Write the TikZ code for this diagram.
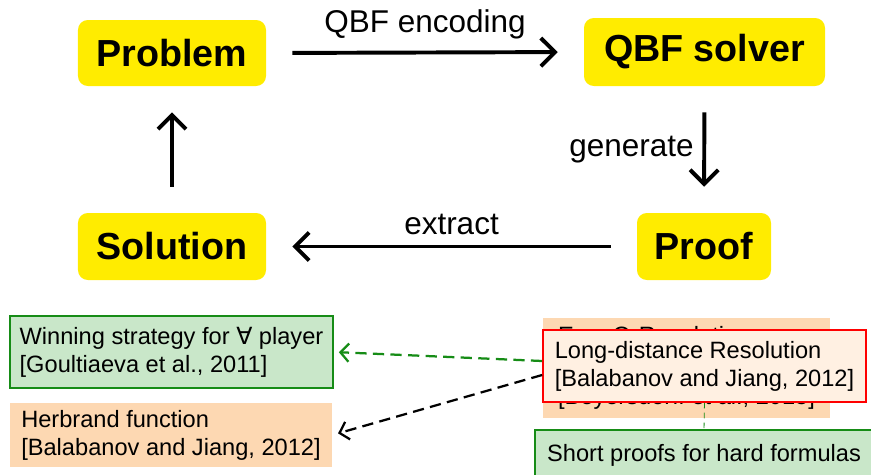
\documentclass[tikz,border=0pt]{standalone}
\usepackage{fontspec}
\setmainfont{Liberation Sans}
\newfontfamily\symfont{DejaVu Sans}
\usetikzlibrary{arrows.meta}

\definecolor{stageyellow}{RGB}{255,236,0}
\definecolor{notegreen}{RGB}{201,231,201}
\definecolor{edgegreen}{RGB}{22,140,22}
\definecolor{noteorange}{RGB}{253,216,178}
\definecolor{notecream}{RGB}{255,240,226}

\tikzset{
  stage/.style={fill=stageyellow, rounded corners=7pt, inner sep=0pt,
    font=\fontsize{26.8}{32}\selectfont\bfseries},
  flow/.style={line width=2.8pt, shorten <=6.5mm, shorten >=6.5mm,
    -{Straight Barb[length=10pt,width=20pt,line width=2.8pt]}},
  flowlabel/.style={font=\fontsize{22.4}{27}\selectfont},
  note/.style={align=left, inner sep=0pt,
    font=\fontsize{16.8}{19.9}\selectfont},
  link/.style={dashed, dash pattern=on 8pt off 4.5pt, line width=1.6pt,
    -{Straight Barb[length=6pt,width=13pt,line width=1.6pt]}}
}

\begin{document}
\begin{tikzpicture}[x=0.25mm, y=-0.25mm]
\clip (0,0) rectangle (871,474);

% cycle
\node[stage, minimum width=47mm, minimum height=16.5mm] (prob) at (172,53) {Problem};
\node[stage, minimum width=60.25mm, minimum height=17mm] (solver) at (704.5,52) {QBF solver};
\node[stage, minimum width=33.5mm, minimum height=16.75mm] (proof) at (704,246.5) {Proof};
\node[stage, minimum width=47mm, minimum height=16.75mm] (sol) at (172,246.5) {Solution};

\draw[flow] (prob.east) -- node[flowlabel, midway, above=1.6mm] {QBF encoding} (solver.west);
\draw[flow] (solver.south) -- node[flowlabel, midway, left=1mm] {generate} (proof.north);
\draw[flow] (proof.west) -- node[flowlabel, midway, above=1.2mm] {extract} (sol.east);
\draw[flow] (sol.north) -- (prob.south);

% proof systems
\node[note, fill=notegreen, draw=edgegreen, line width=1.2pt,
  minimum width=80.75mm, minimum height=18mm] (win) at (171.5,352)
  {Winning strategy for {\symfont ∀} player\\{}[Goultiaeva et al., 2011]};
\node[note, fill=noteorange, minimum width=80.5mm, minimum height=16mm] (herb) at (171,435)
  {Herbrand function\\{}[Balabanov and Jiang, 2012]};
\node[note, fill=noteorange, minimum width=71.75mm, minimum height=25mm,
  font=\fontsize{16.8}{21.8}\selectfont] (expres) at (686.5,368)
  {Exp+Q-Resolution\\ Herbrand function\\{}[Beyersdorff et al., 2015]};
\node[note, fill=notecream, draw=red, line width=1.2pt,
  minimum width=80.75mm, minimum height=18mm] (ld) at (704.5,366)
  {Long-distance Resolution\\{}[Balabanov and Jiang, 2012]};
\node[note, fill=notegreen, draw=edgegreen, line width=1.2pt,
  minimum width=84.5mm, minimum height=12.5mm] (short) at (704,455)
  {Short proofs for hard formulas};

\draw[link, edgegreen, shorten >=1.25mm] ([yshift=1.25mm]ld.west) -- (win.east);
\draw[link, black, shorten >=1.5mm] ([yshift=-2.25mm]ld.west) -- (herb.east);
\draw[edgegreen, dashed, dash pattern=on 4pt off 3pt, line width=0.6pt] (ld.south) -- (short.north);
\end{tikzpicture}
\end{document}
